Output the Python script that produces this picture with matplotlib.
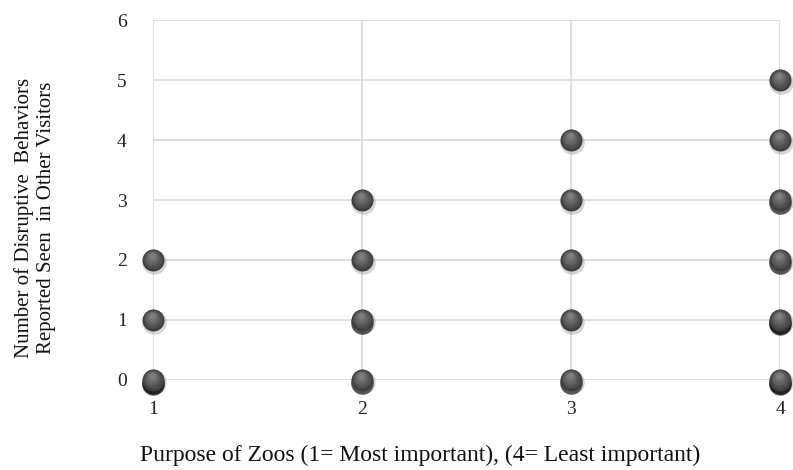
import matplotlib
matplotlib.use('Agg')
import matplotlib.pyplot as plt
import matplotlib.transforms as mtransforms
import numpy as np

# Purpose rank (x) vs number of disruptive behaviours seen (y)
purpose = [1, 1, 1, 2, 2, 2, 2, 3, 3, 3, 3, 3, 4, 4, 4, 4, 4, 4]
behaviors = [0, 1, 2, 0, 1, 2, 3, 0, 1, 2, 3, 4, 0, 1, 2, 3, 4, 5]
# how many respondents sit on the same point (darker shadow when stacked)
counts = [3, 1, 1, 2, 2, 1, 1, 2, 1, 1, 1, 1, 3, 3, 2, 2, 1, 1]

x_ticks = [1, 2, 3, 4]
y_ticks = [0, 1, 2, 3, 4, 5, 6]

plt.rcParams['font.family'] = ['Liberation Serif', 'DejaVu Serif']

fig = plt.figure(figsize=(7.93, 4.70), dpi=100)
ax = fig.add_axes([153 / 793, 90 / 470, 627 / 793, 360 / 470])
ax.set_xlim(1, 4)
ax.set_ylim(0, 6)
ax.set_xticks(x_ticks)
ax.set_yticks(y_ticks)
ax.grid(True, color='#d9d9d9', linewidth=1.2)
ax.set_axisbelow(True)
for s in ax.spines.values():
    s.set_visible(False)
ax.tick_params(length=0, labelsize=14, colors='#222222')
ax.tick_params(axis='x', pad=15)
ax.tick_params(axis='y', pad=19)

x = np.array(purpose)
y = np.array(behaviors)
c = np.array(counts)
size = 250

# soft shadow under each ball, darker where several points overlap
off = mtransforms.offset_copy(ax.transData, fig=fig, x=0.6, y=-1.6, units='points')
ax.scatter(x, y, s=size * 1.25, color='#888888', alpha=0.35, linewidths=0,
           transform=off, clip_on=False, zorder=3)
for k in (2, 3):
    m = c >= k
    off = mtransforms.offset_copy(ax.transData, fig=fig, x=-0.3, y=-1.2 - (k - 1) * 0.9, units='points')
    ax.scatter(x[m], y[m], s=size * 1.05, color='black', alpha=0.6,
               linewidths=0, transform=off, clip_on=False, zorder=3)

# ball body with a soft highlight toward the top
shades = ['#3e3e3e', '#474747', '#505050', '#595959', '#626262', '#6b6b6b', '#747474', '#7e7e7e']
for i, col in enumerate(shades):
    f = 1 - i / len(shades) * 0.85
    off = mtransforms.offset_copy(ax.transData, fig=fig, x=-i * 0.15, y=i * 0.45, units='points')
    ax.scatter(x, y, s=size * f ** 2, color=col, linewidths=0, transform=off,
               clip_on=False, zorder=4 + i)

fig.text(420 / 793, 1 - 455 / 470, 'Purpose of Zoos (1= Most important), (4= Least important)',
         ha='center', va='center', fontsize=17, color='#111111')
fig.text(35 / 793, 1 - 218 / 470, 'Number of Disruptive  Behaviors\nReported Seen  in Other Visitors',
         rotation=90, ha='center', va='center', fontsize=15, linespacing=1.22, color='#111111')

plt.savefig('out.png', dpi=100)
